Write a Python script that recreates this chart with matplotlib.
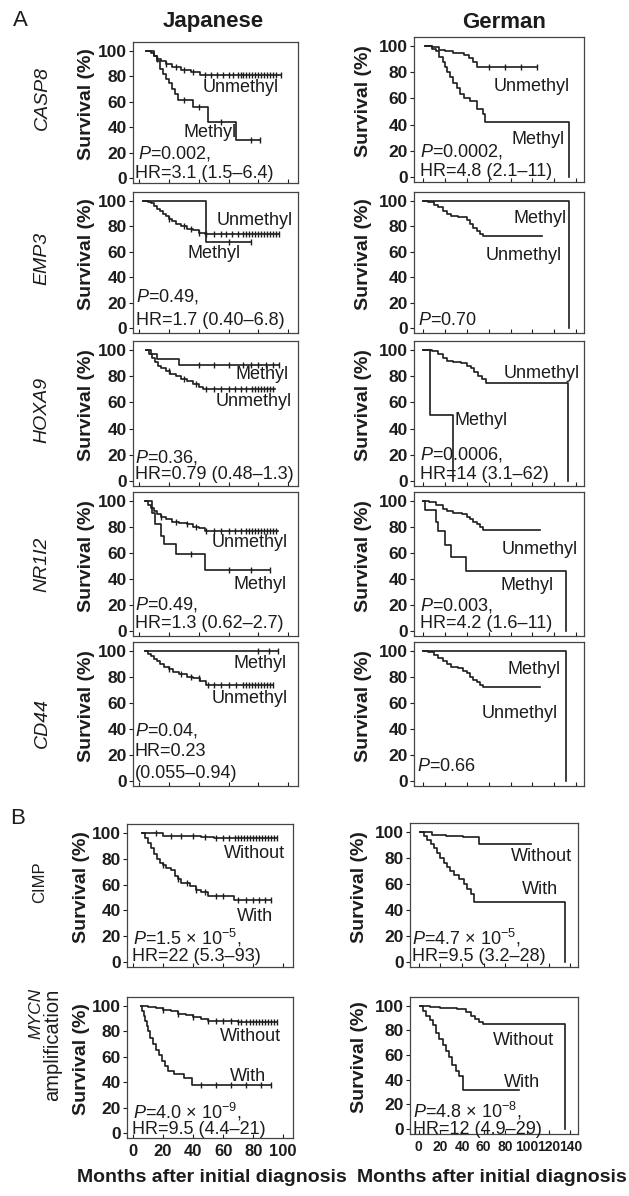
import numpy as np
import matplotlib
matplotlib.use('Agg')
import matplotlib.pyplot as plt

plt.rcParams['font.family'] = ['Liberation Sans', 'DejaVu Sans']
plt.rcParams['mathtext.fontset'] = 'custom'
plt.rcParams['mathtext.rm'] = 'Liberation Sans'
plt.rcParams['mathtext.it'] = 'Liberation Sans:italic'
plt.rcParams['mathtext.bf'] = 'Liberation Sans:bold'

# ---------------- data (months, survival %) ----------------
casp8_jp_unmeth_t = [5, 8, 10, 12, 15, 18, 22, 28, 35, 41, 95]
casp8_jp_unmeth_s = [100, 98, 96, 94, 92, 90, 87, 85, 83, 81, 81]
casp8_jp_unmeth_c = [12, 18, 25, 30, 36, 44, 48, 52, 56, 60, 63, 66, 68, 70, 72, 74, 76, 78, 80, 82, 84, 86, 88, 90, 92, 95]
casp8_jp_meth_t = [5, 10, 12, 14, 16, 18, 20, 22, 24, 26, 36, 46, 65, 81]
casp8_jp_meth_s = [100, 96, 92, 86, 82, 78, 75, 70, 66, 61, 56, 44, 30, 30]
casp8_jp_meth_c = [30, 40, 55, 75, 81]
casp8_de_unmeth_t = [2, 8, 15, 20, 28, 38, 42, 46, 49, 104]
casp8_de_unmeth_s = [100, 99, 97, 96, 95, 93, 91, 88, 84, 84]
casp8_de_unmeth_c = [60, 75, 90, 104]
casp8_de_meth_t = [2, 8, 12, 15, 18, 20, 22, 25, 28, 31, 34, 38, 43, 49, 55, 57, 133]
casp8_de_meth_s = [100, 98, 96, 92, 88, 84, 80, 76, 72, 68, 63, 60, 58, 52, 48, 42, 0]
casp8_de_meth_c = []

emp3_jp_meth_t = [3, 45, 75]
emp3_jp_meth_s = [100, 68, 68]
emp3_jp_meth_c = [60, 75]
emp3_jp_unmeth_t = [3, 6, 8, 10, 12, 14, 16, 18, 20, 22, 25, 28, 32, 36, 40, 44, 94]
emp3_jp_unmeth_s = [100, 99, 98, 96, 94, 92, 90, 88, 86, 84, 82, 80, 78, 77, 75, 74, 74]
emp3_jp_unmeth_c = [20, 30, 35, 40, 45, 50, 55, 58, 62, 66, 70, 72, 74, 76, 78, 80, 82, 84, 86, 88, 90, 92, 94]
emp3_de_meth_t = [0, 133]
emp3_de_meth_s = [100, 0]
emp3_de_meth_c = []
emp3_de_unmeth_t = [0, 5, 10, 14, 18, 22, 26, 32, 40, 43, 46, 49, 52, 55, 109]
emp3_de_unmeth_s = [100, 99, 97, 95, 92, 90, 88, 87, 85, 82, 79, 76, 74, 72, 72]
emp3_de_unmeth_c = []

hoxa9_jp_meth_t = [5, 8, 12, 27, 94]
hoxa9_jp_meth_s = [100, 97, 93, 89, 89]
hoxa9_jp_meth_c = [40, 50, 60, 70, 75, 80, 85, 90, 94]
hoxa9_jp_unmeth_t = [5, 7, 9, 11, 13, 15, 18, 21, 25, 28, 32, 36, 40, 43, 91]
hoxa9_jp_unmeth_s = [100, 97, 94, 91, 88, 86, 84, 82, 80, 78, 76, 74, 72, 70, 70]
hoxa9_jp_unmeth_c = [20, 30, 38, 45, 50, 55, 60, 64, 68, 72, 76, 78, 80, 82, 84, 86, 88, 90]
hoxa9_de_unmeth_t = [0, 8, 14, 18, 22, 28, 35, 40, 44, 47, 50, 54, 58, 132]
hoxa9_de_unmeth_s = [100, 99, 97, 94, 92, 91, 90, 88, 86, 83, 80, 78, 75, 0]
hoxa9_de_unmeth_c = []
hoxa9_de_meth_t = [0, 7, 28]
hoxa9_de_meth_s = [100, 50, 0]
hoxa9_de_meth_c = []

nr1i2_jp_unmeth_t = [4, 6, 8, 10, 12, 15, 18, 22, 27, 32, 36, 40, 44, 93]
nr1i2_jp_unmeth_s = [100, 97, 95, 92, 90, 88, 86, 84, 83, 82, 80, 79, 77, 77]
nr1i2_jp_unmeth_c = [15, 25, 32, 38, 45, 50, 55, 60, 64, 68, 72, 74, 76, 78, 80, 82, 84, 86, 88, 90, 92]
nr1i2_jp_meth_t = [4, 9, 11, 15, 17, 25, 44, 88]
nr1i2_jp_meth_s = [100, 91, 82, 73, 67, 59, 47, 47]
nr1i2_jp_meth_c = [35, 60, 75, 88]
nr1i2_de_unmeth_t = [0, 6, 12, 18, 22, 28, 36, 40, 43, 46, 49, 52, 55, 107]
nr1i2_de_unmeth_s = [100, 99, 97, 94, 92, 91, 90, 88, 86, 84, 82, 80, 78, 78]
nr1i2_de_unmeth_c = []
nr1i2_de_meth_t = [0, 2, 12, 14, 20, 26, 39, 131]
nr1i2_de_meth_s = [100, 93, 84, 77, 66, 57, 46, 0]
nr1i2_de_meth_c = []

cd44_jp_meth_t = [4, 93]
cd44_jp_meth_s = [100, 100]
cd44_jp_meth_c = [80, 87, 93]
cd44_jp_unmeth_t = [4, 6, 8, 10, 12, 14, 17, 20, 23, 27, 32, 36, 41, 45, 90]
cd44_jp_unmeth_s = [100, 98, 96, 94, 92, 90, 88, 86, 84, 82, 80, 79, 77, 74, 74]
cd44_jp_unmeth_c = [20, 28, 35, 40, 46, 50, 55, 60, 65, 70, 72, 74, 76, 78, 80, 82, 84, 86, 88, 90]
cd44_de_meth_t = [0, 131]
cd44_de_meth_s = [100, 0]
cd44_de_meth_c = []
cd44_de_unmeth_t = [0, 5, 10, 14, 18, 22, 26, 32, 37, 40, 43, 46, 49, 52, 55, 107]
cd44_de_unmeth_s = [100, 99, 97, 95, 92, 90, 88, 87, 85, 83, 80, 78, 76, 74, 72, 72]
cd44_de_unmeth_c = []

cimp_jp_without_t = [6, 20, 45, 54, 96]
cimp_jp_without_s = [100, 98, 97, 96, 96]
cimp_jp_without_c = [15, 25, 32, 40, 48, 55, 60, 64, 68, 70, 72, 74, 76, 78, 80, 82, 84, 86, 88, 90, 92, 94, 96]
cimp_jp_with_t = [6, 8, 10, 12, 14, 16, 18, 20, 22, 25, 28, 30, 32, 38, 42, 45, 50, 67, 92]
cimp_jp_with_s = [100, 96, 92, 88, 84, 80, 77, 75, 73, 71, 67, 64, 61, 59, 56, 54, 51, 48, 48]
cimp_jp_with_c = [20, 30, 36, 42, 48, 55, 60, 70, 75, 80, 84, 88, 92]
cimp_de_without_t = [1, 12, 25, 41, 56, 104]
cimp_de_without_s = [100, 98, 97, 96, 91, 91]
cimp_de_without_c = []
cimp_de_with_t = [1, 5, 8, 11, 14, 17, 20, 23, 26, 29, 33, 37, 42, 45, 48, 51, 135]
cimp_de_with_s = [100, 97, 94, 91, 88, 84, 80, 76, 73, 70, 67, 64, 60, 56, 52, 46, 0]
cimp_de_with_c = []

mycn_jp_without_t = [5, 10, 15, 20, 25, 30, 35, 40, 45, 50, 70, 96]
mycn_jp_without_s = [100, 99, 98, 97, 96, 94, 93, 91, 90, 88, 87, 87]
mycn_jp_without_c = [20, 30, 40, 50, 55, 60, 65, 70, 72, 75, 78, 80, 82, 84, 86, 88, 90, 92, 94, 96]
mycn_jp_with_t = [5, 6, 7, 8, 9, 10, 11, 13, 15, 17, 19, 21, 23, 27, 34, 39, 92]
mycn_jp_with_s = [100, 96, 92, 88, 84, 80, 75, 70, 65, 61, 57, 53, 49, 46, 43, 38, 38]
mycn_jp_with_c = [45, 55, 65, 75, 85, 92]
mycn_de_without_t = [1, 10, 20, 35, 44, 48, 52, 56, 59, 135]
mycn_de_without_s = [100, 99, 98, 97, 95, 92, 89, 87, 85, 0]
mycn_de_without_c = []
mycn_de_with_t = [1, 4, 7, 10, 13, 16, 19, 22, 25, 28, 31, 34, 37, 41, 93]
mycn_de_with_s = [100, 96, 92, 88, 84, 78, 73, 68, 63, 58, 52, 47, 43, 32, 32]
mycn_de_with_c = []

# text content
gene_labels = ['CASP8', 'EMP3', 'HOXA9', 'NR1I2', 'CD44', 'CIMP', 'MYCN']
col_titles = ['Japanese', 'German']
y_ticks = [0, 20, 40, 60, 80, 100]
x_ticks_jp = [0, 20, 40, 60, 80, 100]
x_ticks_de = [0, 20, 40, 60, 80, 100, 120, 140]
stats_jp = [['$P$=0.002,', 'HR=3.1 (1.5–6.4)'],
            ['$P$=0.49,', 'HR=1.7 (0.40–6.8)'],
            ['$P$=0.36,', 'HR=0.79 (0.48–1.3)'],
            ['$P$=0.49,', 'HR=1.3 (0.62–2.7)'],
            ['$P$=0.04,', 'HR=0.23', '(0.055–0.94)'],
            ['$P$=1.5 × $10^{-5}$,', 'HR=22 (5.3–93)'],
            ['$P$=4.0 × $10^{-9}$,', 'HR=9.5 (4.4–21)']]
stats_de = [['$P$=0.0002,', 'HR=4.8 (2.1–11)'],
            ['$P$=0.70'],
            ['$P$=0.0006,', 'HR=14 (3.1–62)'],
            ['$P$=0.003,', 'HR=4.2 (1.6–11)'],
            ['$P$=0.66'],
            ['$P$=4.7 × $10^{-5}$,', 'HR=9.5 (3.2–28)'],
            ['$P$=4.8 × $10^{-8}$,', 'HR=12 (4.9–29)']]

# ---------------- layout ----------------
W, H = 629, 1196
fig = plt.figure(figsize=(W / 100, H / 100), dpi=100)
INK = '#1c1c1c'

rows_jp = [(42, 183), (192, 333), (341, 486), (492, 636), (642, 786), (824, 967), (997, 1138)]
rows_de = [(37, 182), (192, 333), (341, 486), (492, 636), (642, 786), (823, 967), (997, 1134)]
cols_jp = [(133, 298)] * 5 + [(127, 293)] * 2
cols_de = [(414, 584)] * 5 + [(410, 578)] * 2


def add_ax(l, r, t, b):
    return fig.add_axes([l / W, 1 - b / H, (r - l) / W, (b - t) / H])


def step_val(t, s, c):
    idx = np.searchsorted(np.asarray(t, float), np.asarray(c, float), side='right') - 1
    idx = np.clip(idx, 0, len(s) - 1)
    return np.asarray(s, float)[idx]


def draw(ax, curves, texts, xlim, xticks, show_x, xfs):
    for t, s, c in curves:
        ax.step(t, s, where='post', color=INK, lw=1.2)
        if len(c):
            ax.plot(c, step_val(t, s, c), ls='none', marker='|', ms=4, mew=1.0, color=INK)
    for txt, xf, yf, ha in texts:
        ax.text(xf, yf, txt, transform=ax.transAxes, ha=ha, va='center',
                fontsize=13, color=INK)
    ax.set_xlim(*xlim)
    ax.set_ylim(-4, 107)
    ax.set_yticks(y_ticks)
    ax.set_xticks(xticks)
    ax.tick_params(axis='y', direction='out', length=3, width=0.8, pad=1.5,
                   labelsize=12.5, colors=INK)
    ax.tick_params(axis='x', direction='in', length=3, width=0.8, pad=4,
                   labelsize=xfs, labelbottom=show_x, colors=INK)
    for lbl in ax.get_yticklabels() + ax.get_xticklabels():
        lbl.set_fontweight('bold')
    for sp in ax.spines.values():
        sp.set_linewidth(0.9)
        sp.set_color('#444444')


curves_jp = [
    [(casp8_jp_unmeth_t, casp8_jp_unmeth_s, casp8_jp_unmeth_c), (casp8_jp_meth_t, casp8_jp_meth_s, casp8_jp_meth_c)],
    [(emp3_jp_unmeth_t, emp3_jp_unmeth_s, emp3_jp_unmeth_c), (emp3_jp_meth_t, emp3_jp_meth_s, emp3_jp_meth_c)],
    [(hoxa9_jp_unmeth_t, hoxa9_jp_unmeth_s, hoxa9_jp_unmeth_c), (hoxa9_jp_meth_t, hoxa9_jp_meth_s, hoxa9_jp_meth_c)],
    [(nr1i2_jp_unmeth_t, nr1i2_jp_unmeth_s, nr1i2_jp_unmeth_c), (nr1i2_jp_meth_t, nr1i2_jp_meth_s, nr1i2_jp_meth_c)],
    [(cd44_jp_unmeth_t, cd44_jp_unmeth_s, cd44_jp_unmeth_c), (cd44_jp_meth_t, cd44_jp_meth_s, cd44_jp_meth_c)],
    [(cimp_jp_without_t, cimp_jp_without_s, cimp_jp_without_c), (cimp_jp_with_t, cimp_jp_with_s, cimp_jp_with_c)],
    [(mycn_jp_without_t, mycn_jp_without_s, mycn_jp_without_c), (mycn_jp_with_t, mycn_jp_with_s, mycn_jp_with_c)],
]
curves_de = [
    [(casp8_de_unmeth_t, casp8_de_unmeth_s, casp8_de_unmeth_c), (casp8_de_meth_t, casp8_de_meth_s, casp8_de_meth_c)],
    [(emp3_de_unmeth_t, emp3_de_unmeth_s, emp3_de_unmeth_c), (emp3_de_meth_t, emp3_de_meth_s, emp3_de_meth_c)],
    [(hoxa9_de_unmeth_t, hoxa9_de_unmeth_s, hoxa9_de_unmeth_c), (hoxa9_de_meth_t, hoxa9_de_meth_s, hoxa9_de_meth_c)],
    [(nr1i2_de_unmeth_t, nr1i2_de_unmeth_s, nr1i2_de_unmeth_c), (nr1i2_de_meth_t, nr1i2_de_meth_s, nr1i2_de_meth_c)],
    [(cd44_de_unmeth_t, cd44_de_unmeth_s, cd44_de_unmeth_c), (cd44_de_meth_t, cd44_de_meth_s, cd44_de_meth_c)],
    [(cimp_de_without_t, cimp_de_without_s, cimp_de_without_c), (cimp_de_with_t, cimp_de_with_s, cimp_de_with_c)],
    [(mycn_de_without_t, mycn_de_without_s, mycn_de_without_c), (mycn_de_with_t, mycn_de_with_s, mycn_de_with_c)],
]

# label positions (axes fraction) for group names and stats lines
groups_jp = [
    [('Unmethyl', .885, .68, 'right'), ('Methyl', .63, .355, 'right')],
    [('Unmethyl', .97, .80, 'right'), ('Methyl', .65, .565, 'right')],
    [('Methyl', .945, .766, 'right'), ('Unmethyl', .96, .585, 'right')],
    [('Unmethyl', .94, .648, 'right'), ('Methyl', .93, .36, 'right')],
    [('Methyl', .93, .85, 'right'), ('Unmethyl', .94, .61, 'right')],
    [('Without', .952, .795, 'right'), ('With', .88, .35, 'right')],
    [('Without', .93, .72, 'right'), ('With', .84, .435, 'right')],
]
groups_de = [
    [('Unmethyl', .918, .66, 'right'), ('Methyl', .888, .29, 'right')],
    [('Methyl', .90, .81, 'right'), ('Unmethyl', .87, .55, 'right')],
    [('Unmethyl', .976, .777, 'right'), ('Methyl', .24, .455, 'left')],
    [('Unmethyl', .965, .60, 'right'), ('Methyl', .82, .35, 'right')],
    [('Methyl', .86, .81, 'right'), ('Unmethyl', .847, .505, 'right')],
    [('Without', .964, .765, 'right'), ('With', .88, .54, 'right')],
    [('Without', .86, .684, 'right'), ('With', .774, .377, 'right')],
]
stat_pos_jp = [[(.03, .21), (.012, .07)], [(.02, .257), (.02, .09)], [(.012, .20), (.01, .076)],
               [(.012, .22), (.01, .088)], [(.012, .384), (.012, .238), (.01, .088)],
               [(.036, .20), (.03, .072)], [(.036, .187), (.03, .057)]]
stat_pos_de = [[(.035, .21), (.035, .07)], [(.025, .09)], [(.035, .214), (.035, .076)],
               [(.035, .215), (.035, .088)], [(.018, .134)],
               [(.01, .20), (.01, .072)], [(.02, .17), (.02, .035)]]

for i in range(7):
    last = (i == 6)
    tj = groups_jp[i] + [(s, p[0], p[1], 'left') for s, p in zip(stats_jp[i], stat_pos_jp[i])]
    td = groups_de[i] + [(s, p[0], p[1], 'left') for s, p in zip(stats_de[i], stat_pos_de[i])]
    axj = add_ax(cols_jp[i][0], cols_jp[i][1], rows_jp[i][0], rows_jp[i][1])
    draw(axj, curves_jp[i], tj, (-4, 106.5), x_ticks_jp, last, 12)
    axd = add_ax(cols_de[i][0], cols_de[i][1], rows_de[i][0], rows_de[i][1])
    draw(axd, curves_de[i], td, (-8, 147), x_ticks_de, last, 10)
    # y labels
    xj = 87 if i < 5 else 82
    xd = 363 if i < 5 else 360
    yc_j = (rows_jp[i][0] + rows_jp[i][1]) / 2 - 8
    yc_d = (rows_de[i][0] + rows_de[i][1]) / 2 - 8
    fig.text(xj / W, 1 - yc_j / H, 'Survival (%)', rotation=90, ha='center', va='center',
             fontsize=14, fontweight='bold', color=INK)
    fig.text(xd / W, 1 - yc_d / H, 'Survival (%)', rotation=90, ha='center', va='center',
             fontsize=14, fontweight='bold', color=INK)

# gene labels
gene_y = [98, 258, 410, 564, 723, 882, 1013]
for i, g in enumerate(gene_labels[:5]):
    fig.text(42 / W, 1 - gene_y[i] / H, g, rotation=90, ha='center', va='center',
             fontsize=14, fontstyle='italic', color=INK)
fig.text(40 / W, 1 - gene_y[5] / H, gene_labels[5], rotation=90, ha='center', va='center',
         fontsize=12, color=INK)
fig.text(36 / W, 1 - gene_y[6] / H, gene_labels[6], rotation=90, ha='center', va='center',
         fontsize=12.5, fontstyle='italic', color=INK)
fig.text(53 / W, 1 - 1045 / H, 'amplification', rotation=90, ha='center', va='center',
         fontsize=14.5, color=INK)

# titles and panel letters
fig.text(213 / W, 1 - 22 / H, col_titles[0], ha='center', va='center', fontsize=16, fontweight='bold', color=INK)
fig.text(504 / W, 1 - 22 / H, col_titles[1], ha='center', va='center', fontsize=16, fontweight='bold', color=INK)
fig.text(20 / W, 1 - 20 / H, 'A', ha='center', va='center', fontsize=16, color=INK)
fig.text(18 / W, 1 - 818 / H, 'B', ha='center', va='center', fontsize=16, color=INK)

# x labels
fig.text(212 / W, 1 - 1178 / H, 'Months after initial diagnosis', ha='center', va='center',
         fontsize=14, fontweight='bold', color=INK)
fig.text(492 / W, 1 - 1178 / H, 'Months after initial diagnosis', ha='center', va='center',
         fontsize=14, fontweight='bold', color=INK)

fig.savefig('out.png', dpi=100, facecolor='white')
